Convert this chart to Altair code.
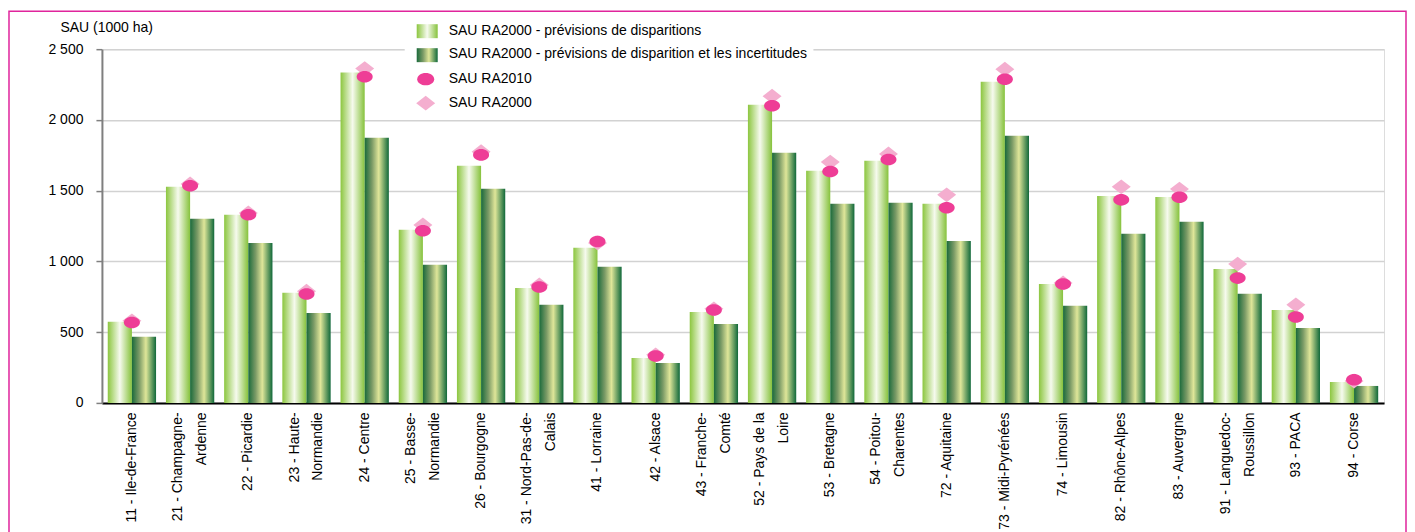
import altair as alt
import pandas as pd

regions = ["11 - Ile-de-France", "21 - Champagne-|Ardenne", "22 - Picardie", "23 - Haute-|Normandie",
           "24 - Centre", "25 - Basse-|Normandie", "26 - Bourgogne", "31 - Nord-Pas-de-|Calais",
           "41 - Lorraine", "42 - Alsace", "43 - Franche-|Comté", "52 - Pays de la|Loire",
           "53 - Bretagne", "54 - Poitou-|Charentes", "72 - Aquitaine", "73 - Midi-Pyrénées",
           "74 - Limousin", "82 - Rhône-Alpes", "83 - Auvergne", "91 - Languedoc-|Roussillon",
           "93 - PACA", "94 - Corse"]
prev_disp = [573, 1527, 1329, 778, 2335, 1223, 1676, 813, 1096, 318, 643, 2107, 1640, 1711, 1407,
             2269, 841, 1463, 1456, 947, 657, 148]
prev_incert = [467, 1301, 1131, 636, 1874, 976, 1513, 693, 962, 283, 558, 1768, 1407, 1414, 1145,
               1888, 686, 1195, 1280, 771, 530, 120]
ra2010 = [568, 1535, 1330, 770, 2305, 1216, 1753, 820, 1140, 332, 657, 2100, 1635, 1720, 1379,
          2288, 841, 1435, 1454, 882, 608, 163]
ra2000 = [580, 1548, 1343, 790, 2363, 1258, 1775, 834, 1131, 340, 665, 2168, 1702, 1760, 1471,
          2359, 848, 1527, 1511, 981, 693, 155]

legend_labels = ["SAU RA2000 - prévisions de disparitions",
                 "SAU RA2000 - prévisions de disparition et les incertitudes",
                 "SAU RA2010", "SAU RA2000"]

FONT = "Liberation Sans, Arial, sans-serif"
FS = 14
C2010 = "#ee3d96"
C2000 = "#f4aecf"
ELLIPSE = "M-1,0A1,0.72,0,1,1,1,0A1,0.72,0,1,1,-1,0Z"
DIAMOND = "M-1,0L0,-0.78L1,0L0,0.78Z"

light_grad = alt.LinearGradient(gradient="linear", x1=0, x2=1, y1=0, y2=0, stops=[
    alt.GradientStop(offset=0, color="#8cc63f"),
    alt.GradientStop(offset=0.5, color="#f6faee"),
    alt.GradientStop(offset=1, color="#86c23c")])
dark_grad = alt.LinearGradient(gradient="linear", x1=0, x2=1, y1=0, y2=0, stops=[
    alt.GradientStop(offset=0, color="#1a6a3b"),
    alt.GradientStop(offset=0.3, color="#7a9a66"),
    alt.GradientStop(offset=0.58, color="#dfe699"),
    alt.GradientStop(offset=1, color="#10683a")])

rows = []
for i, r in enumerate(regions):
    rows.append({"region": r, "series": "a", "value": prev_disp[i]})
    rows.append({"region": r, "series": "b", "value": prev_incert[i]})
df = pd.DataFrame(rows)
pts = pd.DataFrame({"region": regions, "ra2010": ra2010, "ra2000": ra2000})
one = pd.DataFrame({"k": [0]})

xscale = alt.Scale(domain=regions, paddingInner=0.17, paddingOuter=0.1)
xaxis = alt.Axis(title=None, labelAngle=-90, labelAlign="right", labelBaseline="middle",
                 labelExpr="split(datum.label, '|')", labelLineHeight=24, ticks=False,
                 labelOffset={"condition": {"test": "indexof(datum.label, '|') >= 0", "value": -12},
                              "value": 0},
                 labelPadding=9, domainColor="black", domainWidth=2, grid=False,
                 labelFont=FONT, labelFontSize=FS, labelColor="black", labelLimit=240)
yscale = alt.Scale(domain=[0, 2500], nice=False)
yaxis = alt.Axis(title="SAU (1000 ha)", titleAngle=0, titleAlign="left", titleBaseline="middle",
                 titleX=-42, titleY=-22, titleFont=FONT, titleFontSize=FS, titleFontWeight="normal",
                 titleColor="black", values=[0, 500, 1000, 1500, 2000, 2500],
                 labelExpr="replace(format(datum.value, ','), ',', ' ')",
                 labelFont=FONT, labelFontSize=FS, labelColor="black", labelPadding=13,
                 tickSize=6, tickColor="#808080", tickWidth=1.5,
                 domainColor="#7f7f7f", domainWidth=2,
                 gridColor="#d2d2d2", gridWidth=1.5)

border = alt.Chart(one).mark_rect(filled=False, stroke="#e0249c", strokeWidth=1.5).encode(
    x=alt.value(-93), x2=alt.value(1305), y=alt.value(-38), y2=alt.value(540))
whitebox = alt.Chart(one).mark_rect(color="white").encode(
    x=alt.value(303), x2=alt.value(712), y=alt.value(-36), y2=alt.value(62))

bars_a = alt.Chart(df).transform_filter("datum.series == 'a'").mark_bar(color=light_grad).encode(
    x=alt.X("region:N", scale=xscale, axis=xaxis, sort=regions),
    xOffset=alt.XOffset("series:N", scale=alt.Scale(domain=["a", "b"], paddingInner=0)),
    y=alt.Y("value:Q", scale=yscale, axis=yaxis))
bars_b = alt.Chart(df).transform_filter("datum.series == 'b'").mark_bar(color=dark_grad).encode(
    x=alt.X("region:N", scale=xscale, axis=xaxis, sort=regions),
    xOffset=alt.XOffset("series:N", scale=alt.Scale(domain=["a", "b"], paddingInner=0)),
    y=alt.Y("value:Q", scale=yscale, axis=yaxis))

p2000 = alt.Chart(pts).mark_point(filled=True, shape=DIAMOND, size=361, color=C2000, opacity=1).encode(
    x=alt.X("region:N", scale=xscale, sort=regions), y=alt.Y("ra2000:Q", scale=yscale))
p2010 = alt.Chart(pts).mark_point(filled=True, shape=ELLIPSE, size=256, color=C2010, opacity=1).encode(
    x=alt.X("region:N", scale=xscale, sort=regions), y=alt.Y("ra2010:Q", scale=yscale))

# legend
leg = []
leg.append(alt.Chart(one).mark_rect(color=light_grad).encode(
    x=alt.value(315), x2=alt.value(336), y=alt.value(-25), y2=alt.value(-11)))
leg.append(alt.Chart(one).mark_rect(color=dark_grad).encode(
    x=alt.value(315), x2=alt.value(336), y=alt.value(-1), y2=alt.value(13)))
leg.append(alt.Chart(one).mark_point(filled=True, shape=ELLIPSE, size=289, color=C2010, opacity=1).encode(
    x=alt.value(324), y=alt.value(30)))
leg.append(alt.Chart(one).mark_point(filled=True, shape=DIAMOND, size=361, color=C2000, opacity=1).encode(
    x=alt.value(324), y=alt.value(54)))
for lab, yy in zip(legend_labels, [-18, 5, 30, 54]):
    leg.append(alt.Chart(one).mark_text(text=lab, align="left", baseline="middle", font=FONT,
                                        fontSize=FS, color="black").encode(
        x=alt.value(347), y=alt.value(yy)))

chart = alt.layer(border, whitebox, bars_a, bars_b, p2000, p2010, *leg).properties(
    width=1283, height=354, padding={"left": 0, "top": 2, "right": 0, "bottom": 0}
).configure_view(stroke=None).configure(background="white")

chart.save("out.html", embed_options={"renderer": "svg", "actions": False})
